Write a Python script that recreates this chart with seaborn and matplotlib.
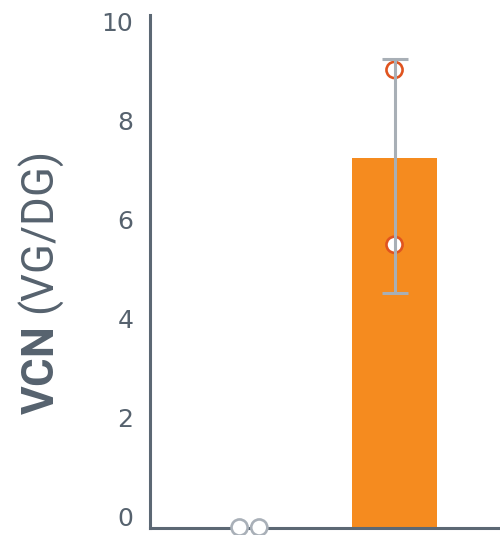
import numpy as np
import pandas as pd
import matplotlib
matplotlib.use("Agg")
import matplotlib.pyplot as plt
import seaborn as sns
from matplotlib.transforms import ScaledTranslation

# Group means with their whisker ends
groups = ["Untreated", "Treated"]
bar_means = [0.0, 7.47]
whisker_low = [0.0, 4.73]
whisker_high = [0.0, 9.46]

# Individual animals
point_groups = ["Untreated", "Untreated", "Treated", "Treated"]
point_vcn = [0.0, 0.0, 9.24, 5.71]

y_ticks = [0, 2, 4, 6, 8, 10]

ORANGE = "#F58B1F"
POINT_GREY = "#A9B0B8"
POINT_RED = "#E0541F"
ERR_GREY = "#A8AFB6"
AXIS_COL = "#5C6874"
TEXT_COL = "#56626E"

sns.set_theme(style="white")
plt.rcParams["font.family"] = ["DejaVu Sans"]
plt.rcParams["mathtext.fontset"] = "custom"
plt.rcParams["mathtext.bf"] = "Roboto:bold"
plt.rcParams["mathtext.rm"] = "Roboto"

fig = plt.figure(figsize=(5.0, 5.35), dpi=100)
ax = fig.add_axes([0.30, 7.5 / 535, 0.70, 512.5 / 535])

bars = pd.DataFrame({"group": groups, "vcn": bar_means})
sns.barplot(data=bars, x="group", y="vcn", hue="group", order=groups,
            hue_order=groups, palette=[ORANGE, ORANGE], width=0.629,
            saturation=1, errorbar=None, legend=False, linewidth=0,
            ax=ax, zorder=1)

points = pd.DataFrame({"group": point_groups, "vcn": point_vcn})
sns.swarmplot(data=points, x="group", y="vcn", hue="group", order=groups,
              hue_order=groups, palette=[POINT_GREY, POINT_RED], size=11.6,
              linewidth=1.9, legend=False, ax=ax, zorder=3)
# hollow circles: move the hue colour to the outline
for coll in ax.collections:
    fc = coll.get_facecolors()
    if len(fc):
        coll.set_edgecolors(fc)
        coll.set_facecolors("white")
        coll.set_linewidth(1.9)
        coll.set_clip_on(False)

# asymmetric whiskers, only where there is a spread
means = np.array(bar_means)
lo = np.array(whisker_low)
hi = np.array(whisker_high)
xpos = np.arange(len(groups))
has_err = (hi - lo) > 0
ax.errorbar(xpos[has_err], means[has_err],
            yerr=[means[has_err] - lo[has_err], hi[has_err] - means[has_err]],
            fmt="none", ecolor=ERR_GREY, elinewidth=2.2, capsize=9.7,
            capthick=2.2, zorder=4)

ax.set_xlim(-0.808, 1.780)
ax.set_ylim(0, 10.35)
ax.set_yticks(y_ticks)
ax.set_yticklabels([str(t) for t in y_ticks])
ax.set_xticks([])
ax.set_xlabel("")
ax.set_ylabel("")

for side in ("top", "right"):
    ax.spines[side].set_visible(False)
for side in ("left", "bottom"):
    ax.spines[side].set_color(AXIS_COL)
    ax.spines[side].set_linewidth(2.2)

ax.tick_params(axis="y", length=0, pad=12, labelsize=18, labelcolor=TEXT_COL)
lift = ScaledTranslation(0, 10.8 / 100, fig.dpi_scale_trans)
for lab in ax.get_yticklabels():
    lab.set_transform(lab.get_transform() + lift)

fig.text(41 / 500, 1 - 284 / 535, r"$\mathbf{VCN}$ (VG/DG)", rotation=90,
         ha="center", va="center", fontsize=31.5, family="Roboto", color=TEXT_COL)

fig.savefig("out.png", dpi=100)
